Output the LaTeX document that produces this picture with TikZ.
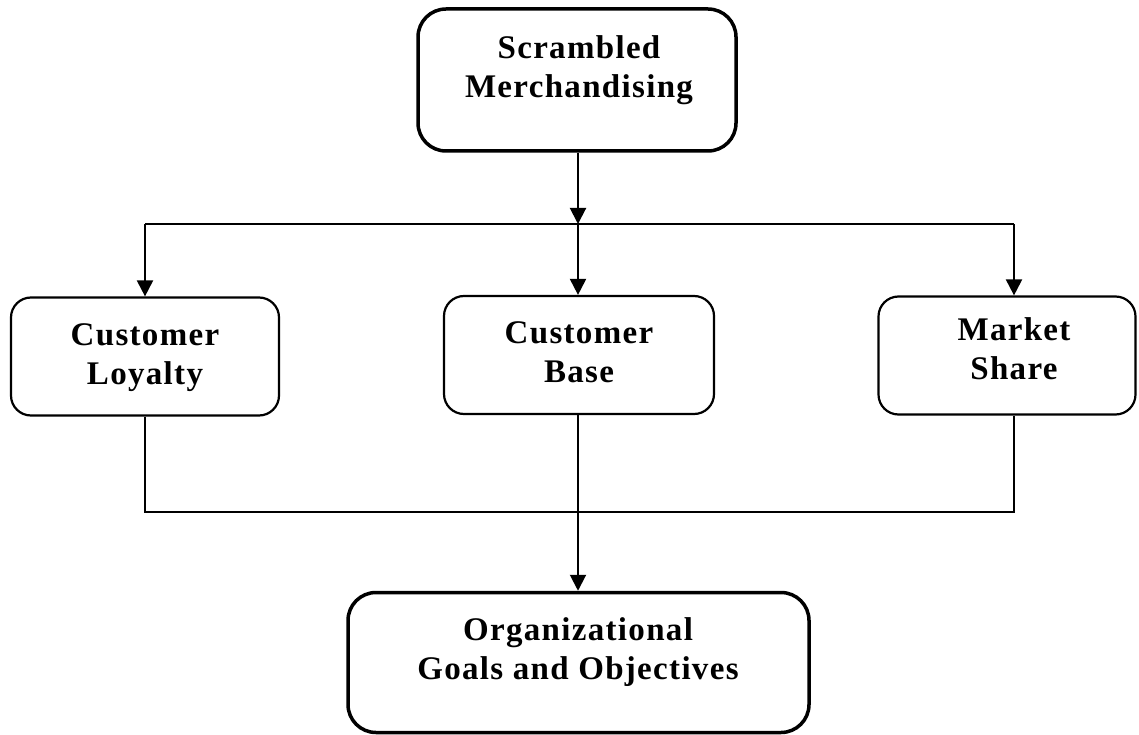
\documentclass[tikz,border=0pt]{standalone}
\usepackage{fontspec}
\setmainfont{Liberation Serif}[LetterSpace=4]
\usetikzlibrary{arrows.meta}
\begin{document}
\begin{tikzpicture}[x=1pt,y=-1pt,
  bigbox/.style={draw, line width=3.5pt, rounded corners=28pt, inner sep=0pt},
  midbox/.style={draw, line width=2.2pt, rounded corners=20pt, inner sep=0pt, minimum height=118pt},
  lbl/.style={align=center, inner sep=0pt, font=\fontsize{33}{39}\selectfont\bfseries},
  conn/.style={line width=2pt},
  arr/.style={conn, -{Triangle[width=16pt,length=16pt]}}]
\useasboundingbox (0,0) rectangle (1139,735);
% boxes
\node[bigbox, minimum width=318pt, minimum height=142pt] (sm) at (577,80) {};
\node[midbox, minimum width=268pt] (cl) at (145,356.5) {};
\node[midbox, minimum width=270pt] (cb) at (579,355) {};
\node[midbox, minimum width=257pt] (ms) at (1007,355.5) {};
\node[bigbox, minimum width=461pt, minimum height=140pt] (og) at (578.5,662.5) {};
% labels
\node[lbl] (tsm) at (579,70.5) {\strut Scrambled\\\strut Merchandising};
\node[lbl] (tcl) at (145,357.5) {\strut Customer\\\strut Loyalty};
\node[lbl] (tcb) at (579,355.5) {\strut Customer\\\strut Base};
\node[lbl] (tms) at (1014,352.5) {\strut Market\\\strut Share};
\node[lbl] (tog) at (578,652.5) {\strut Organizational\\\strut Goals and Objectives};
% junctions
\coordinate (jt) at (578,224);
\coordinate (jl) at (145,224);
\coordinate (jr) at (1014,224);
\coordinate (bl) at (145,512);
\coordinate (br) at (1014,512);
% connectors
\draw[arr] (sm.south -| jt) -- (jt);
\draw[conn] (jl) -- (jr);
\draw[arr] (jl) -- (jl |- cl.north);
\draw[arr] (jt) -- (jt |- cb.north);
\draw[arr] (jr) -- (jr |- ms.north);
\draw[conn] (bl |- cl.south) -- (bl) -- (br) -- (br |- ms.south);
\draw[arr] (cb.south -| jt) -- (jt |- og.north);
\end{tikzpicture}
\end{document}
